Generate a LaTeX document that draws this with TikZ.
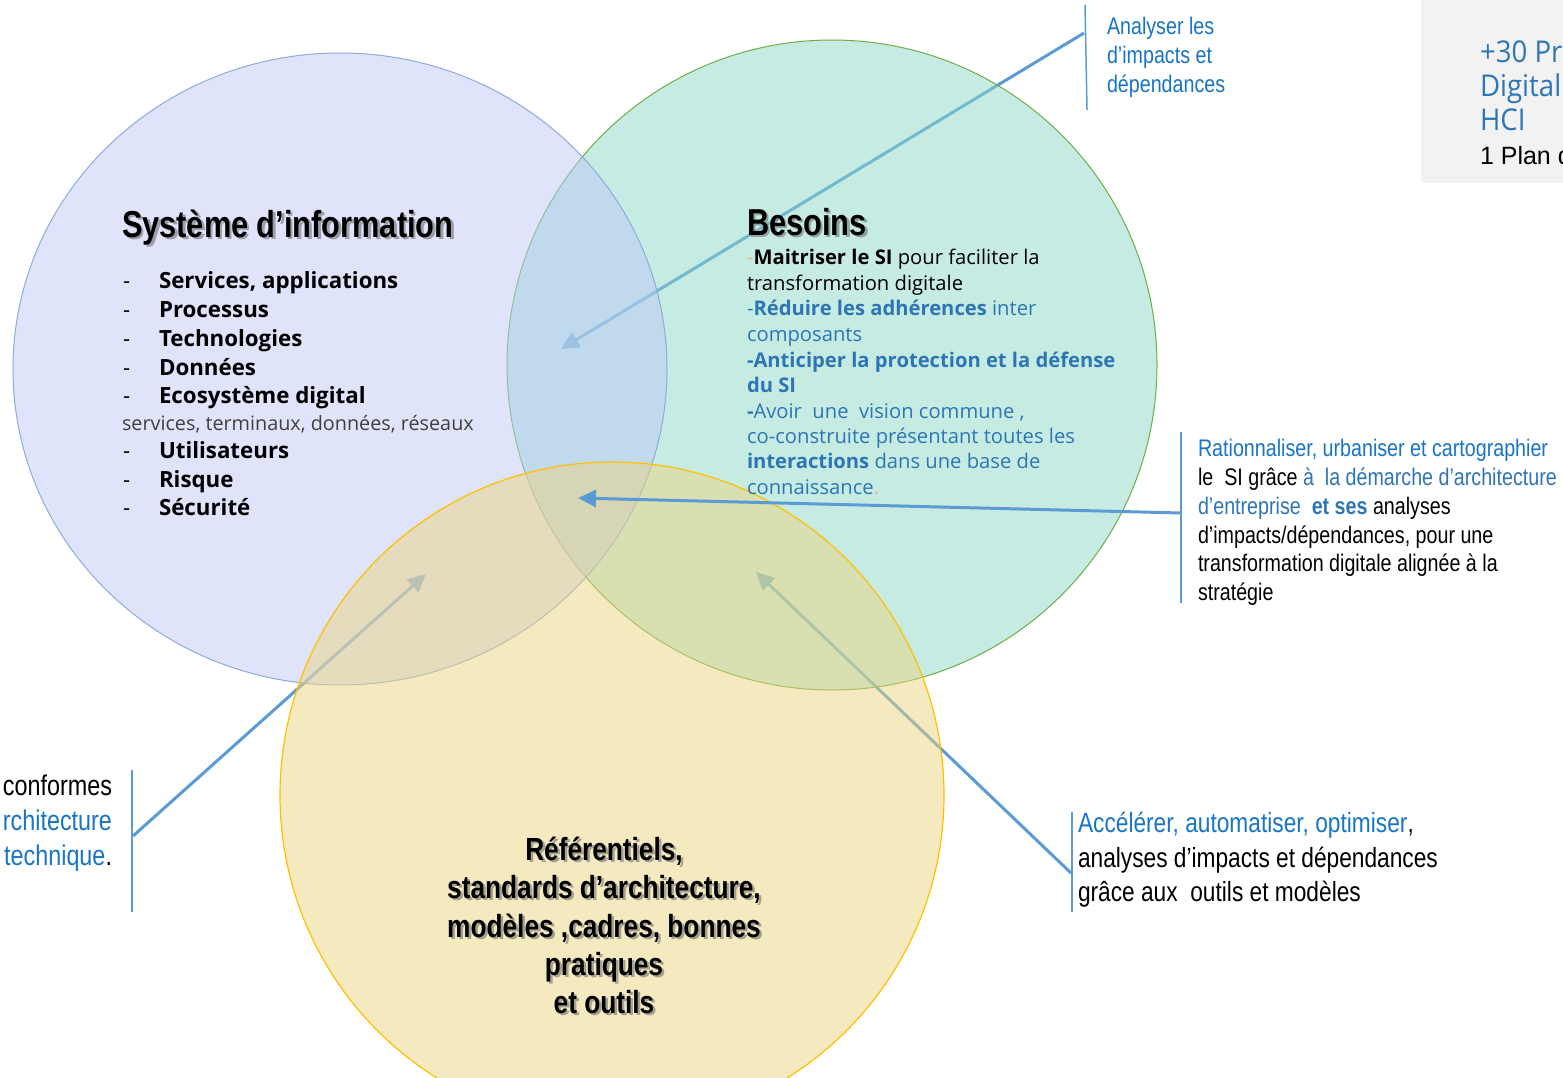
\documentclass[tikz,border=0pt]{standalone}
\usepackage{fontspec}
\setmainfont{Open Sans}
\newfontfamily\seg{Open Sans}
\newfontfamily\segn[FakeStretch=0.92]{Open Sans}
\newfontfamily\narrow[FakeStretch=0.82]{Liberation Sans}
\newfontfamily\arial{Liberation Sans}
\usetikzlibrary{arrows.meta}
\definecolor{cBlueFill}{RGB}{191,201,247}
\definecolor{cBlueLine}{RGB}{143,170,220}
\definecolor{cGreenFill}{RGB}{139,215,199}
\definecolor{cGreenLine}{RGB}{112,173,71}
\definecolor{cYellowFill}{RGB}{235,211,129}
\definecolor{cYellowLine}{RGB}{255,192,0}
\definecolor{cArrow}{RGB}{91,155,213}
\definecolor{cTxtBlue}{RGB}{24,116,196}
\definecolor{cBes}{RGB}{46,117,182}
\definecolor{cOrange}{RGB}{244,177,131}
\definecolor{cBoxGray}{RGB}{242,242,242}
\definecolor{cSub}{RGB}{64,64,64}
\begin{document}
\begin{tikzpicture}[x=1pt,y=-1pt,
  every node/.style={inner sep=0pt,outer sep=0pt},
  arr/.style={draw=cArrow,line width=3pt,-{Triangle[length=18pt,width=17pt]}},
  vline/.style={draw=cArrow,line width=1.5pt},
  ttl/.style={anchor=base west,font=\narrow\bfseries\fontsize{37.5}{44}\selectfont},
  ttlc/.style={anchor=base,font=\narrow\bfseries\fontsize{32}{38}\selectfont},
  shd/.style={text=black!60,opacity=0.55},
  dashl/.style={anchor=base west,font=\seg\fontsize{22}{29}\selectfont},
  item/.style={anchor=base west,font=\seg\bfseries\fontsize{22.3}{29}\selectfont},
  subl/.style={anchor=base west,font=\seg\fontsize{19.8}{26}\selectfont,text=cSub},
  besl/.style={anchor=base west,font=\seg\fontsize{20.2}{26}\selectfont},
  lbl/.style={anchor=base west,font=\narrow\fontsize{24}{29}\selectfont},
  lblb/.style={anchor=base west,font=\narrow\fontsize{27.7}{34}\selectfont},
  lble/.style={anchor=base east,font=\narrow\fontsize{28.5}{34}\selectfont},
  boxl/.style={anchor=base west,font=\segn\fontsize{30}{34}\selectfont,text=cBes},
]
\useasboundingbox (0,0) rectangle (1563,1078);
\clip (0,0) rectangle (1563,1078);

% top-right grey box
\fill[cBoxGray] (1421,0) rectangle (1563,183);
\node[boxl] (bx1) at (1480,63) {+30 Pr};
\node[boxl] (bx2) at (1480,97) {Digital};
\node[boxl] (bx3) at (1480,131) {HCI};
\node[anchor=base west,font=\arial\fontsize{25}{30}\selectfont] (bx4) at (1480,165) {1 Plan d};

% coordinates of connectors
\coordinate (vA1) at (1085,5);   \coordinate (vA2) at (1087,110);
\coordinate (aA) at (1084,33);   \coordinate (tA) at (561,349);
\coordinate (vB1) at (1181,432); \coordinate (vB2) at (1181,603);
\coordinate (aB) at (1181,513);  \coordinate (tB) at (578,498);
\coordinate (vC1) at (1072,812); \coordinate (vC2) at (1072,912);
\coordinate (aC) at (1071,873);  \coordinate (tC) at (756,572);
\coordinate (vD1) at (132,770);  \coordinate (vD2) at (132,912);
\coordinate (aD) at (133,836);   \coordinate (tD) at (426,574);

% arrows drawn under the translucent circles
\draw[arr] (aA) -- (tA);
\draw[arr] (aC) -- (tC);
\draw[arr] (aD) -- (tD);

% circles
\path[fill=cGreenFill,fill opacity=0.5,draw=cGreenLine,line width=1pt] (832,365) ellipse [x radius=325pt,y radius=325pt];
\path[fill=cBlueFill,fill opacity=0.5,draw=cBlueLine,line width=1pt] (340,369) ellipse [x radius=327pt,y radius=316pt];
\path[fill=cYellowFill,fill opacity=0.5,draw=cYellowLine,line width=1.2pt] (612,795) ellipse [x radius=332pt,y radius=333pt];

% arrow drawn on top
\draw[arr] (aB) -- (tB);

% vertical bars
\draw[vline] (vA1) -- (vA2);
\draw[vline] (vB1) -- (vB2);
\draw[vline] (vC1) -- (vC2);
\draw[vline] (vD1) -- (vD2);

% Systeme d'information
\node[ttl,shd] (sitS) at (124.5,239.5) {Système d’information};
\node[ttl] (sit) at (122,237) {Système d’information};
\foreach \y/\t [count=\i] in {288/{Services, applications},317/Processus,346/Technologies,375/Données,403/{Ecosystème digital},458/Utilisateurs,487/Risque,515/Sécurité}{
  \node[dashl] (sd\i) at (123,\y) {-};
  \node[item] (si\i) at (159,\y) {\t};
}
\node[subl] (ssub) at (122,430) {services, terminaux, données, réseaux};

% Besoins
\node[ttl,shd] (besS) at (749.5,237.5) {Besoins};
\node[ttl] (bes) at (747,235) {Besoins};
\node[besl] (b1) at (747,264) {{\color{cOrange}-}\textbf{Maitriser le SI} pour faciliter la};
\node[besl] (b2) at (747,290) {transformation digitale};
\node[besl,text=cBes] (b3) at (747,315) {-\textbf{Réduire les adhérences} inter};
\node[besl,text=cBes] (b4) at (747,341) {composants};
\node[besl,text=cBes] (b5) at (747,367) {\textbf{-Anticiper la protection et la défense}};
\node[besl,text=cBes] (b6) at (747,392) {\textbf{du SI}};
\node[besl,text=cBes] (b7) at (747,418) {\textbf{-}Avoir\ \ une\ \ vision commune ,};
\node[besl,text=cBes] (b8) at (747,443) {co-construite présentant toutes les};
\node[besl,text=cBes] (b9) at (747,468) {\textbf{interactions} dans une base de};
\node[besl,text=cBes] (b10) at (747,494) {connaissance{\color{cOrange}.}};

% Referentiels
\foreach \y/\t [count=\i] in {860/{Référentiels,},898/{standards d’architecture,},937/{modèles ,cadres, bonnes},975/pratiques,1013/{et outils}}{
  \node[ttlc,shd] (rS\i) at (606.5,\y+2.5) {\t};
  \node[ttlc] (r\i) at (604,\y) {\t};
}

% top label
\node[lbl,text=cTxtBlue] (la1) at (1107,35) {Analyser les};
\node[lbl,text=cTxtBlue] (la2) at (1107,64) {d’impacts et};
\node[lbl,text=cTxtBlue] (la3) at (1107,93) {dépendances};

% middle right label
\node[lbl,text=cTxtBlue] (lb1) at (1198,456) {Rationnaliser, urbaniser et cartographier};
\node[lbl] (lb2) at (1198,485) {le\ \ SI grâce {\color{cBes}à\ \ la démarche d’architecture}};
\node[lbl] (lb3) at (1198,514) {{\color{cBes}d’entreprise\ \ \textbf{et ses}} analyses};
\node[lbl] (lb4) at (1198,543) {d’impacts/dépendances, pour une};
\node[lbl] (lb5) at (1198,571) {transformation digitale alignée à la};
\node[lbl] (lb6) at (1198,600) {stratégie};

% bottom right label
\node[lblb] (lc1) at (1078,832) {{\color{cTxtBlue}Accélérer, automatiser, optimiser},};
\node[lblb] (lc2) at (1078,867) {analyses d’impacts et dépendances};
\node[lblb] (lc3) at (1078,901) {grâce aux\ \ outils et modèles};

% bottom left label
\node[lble] (ld1) at (112,795) {conformes};
\node[lble,text=cTxtBlue] (ld2) at (112,830) {rchitecture};
\node[lble] (ld3) at (112,865) {{\color{cTxtBlue}technique}.};
\end{tikzpicture}
\end{document}
